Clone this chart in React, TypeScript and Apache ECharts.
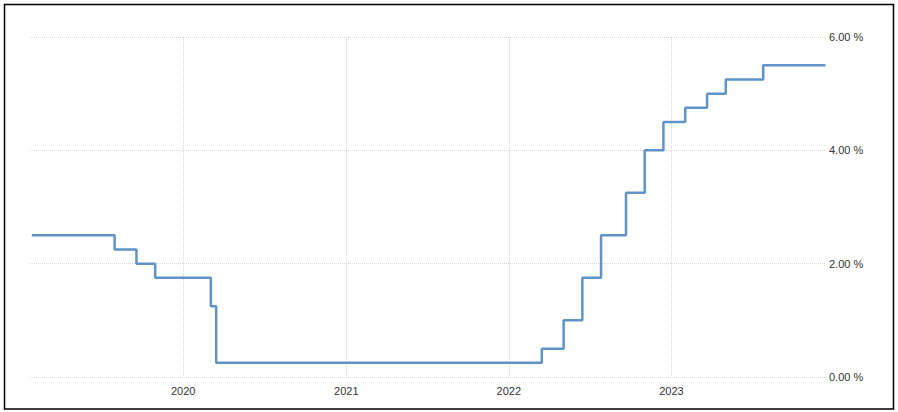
import React, { useEffect, useRef } from "react";
import * as echarts from "echarts";

const dates: string[] = [
  "2019-01-26",
  "2019-07-31",
  "2019-09-18",
  "2019-10-30",
  "2020-03-03",
  "2020-03-15",
  "2022-03-16",
  "2022-05-04",
  "2022-06-15",
  "2022-07-27",
  "2022-09-21",
  "2022-11-02",
  "2022-12-14",
  "2023-02-01",
  "2023-03-22",
  "2023-05-03",
  "2023-07-26",
  "2023-12-13",
];
const rates: number[] = [
  2.5, 2.25, 2.0, 1.75, 1.25, 0.25, 0.5, 1.0, 1.75, 2.5, 3.25, 4.0, 4.5, 4.75, 5.0, 5.25, 5.5, 5.5,
];
const xMin = "2019-01-22";
const xMax = "2023-12-14";
const yTicks = { min: 0, max: 6, interval: 2 };

export default function App() {
  const ref = useRef<HTMLDivElement>(null);
  useEffect(() => {
    if (!ref.current) return;
    const chart = echarts.init(ref.current, undefined, { renderer: "svg" });
    const DAY = 24 * 3600 * 1000;
    const labelStyle = {
      color: "#333",
      fontSize: 11,
      fontFamily: "Arial, 'Liberation Sans', sans-serif",
    };
    const dotted = { color: "#d6d6d6", width: 1, type: [1, 1] as any };
    chart.setOption({
      animation: false,
      backgroundColor: "#fff",
      grid: { left: 30, right: 72, top: 37, bottom: 35, containLabel: false },
      xAxis: {
        type: "time",
        min: new Date(xMin).getTime(),
        max: new Date(xMax).getTime(),
        minInterval: 365 * DAY,
        maxInterval: 366 * DAY,
        axisLine: { show: false },
        axisTick: { show: false },
        splitLine: { show: true, showMinLine: false, showMaxLine: false, lineStyle: dotted },
        axisLabel: {
          ...labelStyle,
          margin: 8,
          showMinLabel: false,
          showMaxLabel: false,
          formatter: (v: number) => String(new Date(v).getFullYear()),
        },
      },
      yAxis: {
        type: "value",
        position: "right",
        min: yTicks.min,
        max: yTicks.max,
        interval: yTicks.interval,
        axisLine: { show: false },
        axisTick: { show: false },
        splitLine: { show: true, lineStyle: dotted },
        axisLabel: {
          ...labelStyle,
          margin: 3,
          formatter: (v: number) => v.toFixed(2) + " %",
        },
      },
      series: [
        {
          type: "line",
          step: "end",
          showSymbol: false,
          data: dates.map((d, i) => [new Date(d).getTime(), rates[i]]),
          lineStyle: { color: "#6193c7", width: 2.5 },
          itemStyle: { color: "#6193c7" },
        },
      ],
      graphic: [
        {
          type: "rect",
          shape: { x: 4.5, y: 4.5, width: 889, height: 404.5 },
          style: { fill: "none", stroke: "#000", lineWidth: 1.5 },
          silent: true,
        },
      ],
    });
    return () => chart.dispose();
  }, []);
  return (
    <div
      ref={ref}
      style={{ position: "absolute", left: 0, top: 0, width: 898, height: 412 }}
    />
  );
}
